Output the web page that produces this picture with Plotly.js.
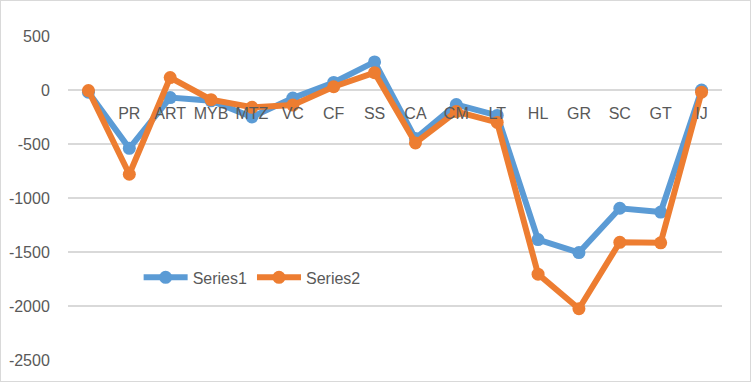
<!DOCTYPE html>
<html>
<head>
<meta charset="utf-8">
<script src="https://cdn.plot.ly/plotly-3.0.1.min.js"></script>
<style>
  html, body { margin: 0; padding: 0; background: #fff; }
  #chart { width: 749px; height: 380px; border: 1px solid #d9d9d9; }
</style>
</head>
<body>
<div id="chart"></div>
<script>
const categories = ["", "PR", "ART", "MYB", "MTZ", "VC", "CF", "SS", "CA", "CM", "LT", "HL", "GR", "SC", "GT", "IJ"];
const series1 = [-20, -540, -70, -100, -250, -75, 70, 260, -450, -135, -235, -1385, -1505, -1095, -1130, 0];
const series2 = [-5, -780, 115, -90, -160, -140, 30, 160, -490, -200, -300, -1705, -2025, -1410, -1415, -20];
const yTicks = [500, 0, -500, -1000, -1500, -2000, -2500];

const idx = categories.map((c, i) => i);
const font = { family: "Liberation Sans, Arial, sans-serif", size: 16, color: "#595959" };

const traces = [
  { name: "Series1", x: idx, y: series1, type: "scatter", mode: "lines+markers",
    line: { color: "#5B9BD5", width: 6 }, marker: { color: "#5B9BD5", size: 13 } },
  { name: "Series2", x: idx, y: series2, type: "scatter", mode: "lines+markers",
    line: { color: "#ED7D31", width: 6 }, marker: { color: "#ED7D31", size: 13 } }
];

const layout = {
  width: 749, height: 380,
  margin: { l: 67, r: 28, t: 35, b: 21 },
  paper_bgcolor: "#fff", plot_bgcolor: "#fff",
  font: font,
  showlegend: true,
  legend: { orientation: "h", x: 0.108, y: 0.255, xanchor: "left", yanchor: "middle",
            bgcolor: "rgba(0,0,0,0)", font: font, itemwidth: 44, tracegroupgap: 0 },
  xaxis: {
    range: [-0.5, categories.length - 0.5],
    tickvals: idx, ticktext: categories,
    showgrid: false, zeroline: false, showline: false,
    anchor: "free", position: 2500 / 3000,
    ticks: "outside", ticklen: 0, ticklabelstandoff: 9,
    tickfont: font, fixedrange: true
  },
  yaxis: {
    range: [-2500, 500],
    tickvals: yTicks, ticktext: yTicks.map(String),
    showgrid: true, gridcolor: "#d9d9d9", gridwidth: 1.5,
    zeroline: false, showline: false,
    ticks: "outside", ticklen: 0, ticklabelstandoff: 14,
    tickfont: font
  }
};

Plotly.newPlot("chart", traces, layout, { displayModeBar: false, staticPlot: true });
</script>
</body>
</html>
